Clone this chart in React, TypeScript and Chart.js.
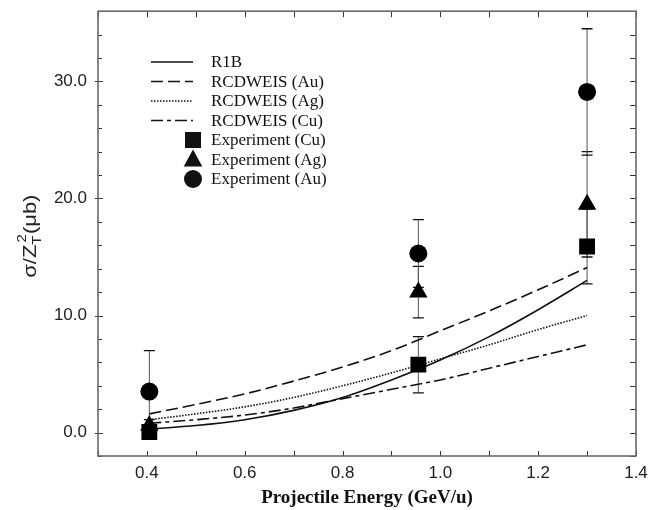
import React, { useEffect, useRef } from "react";
import { Chart, registerables } from "chart.js";

Chart.register(...registerables);

// ---- data ----
const curveEnergies = [0.405, 0.5, 0.6, 0.7, 0.8, 0.9, 1.0, 1.1, 1.2, 1.3];
const r1b = [0.3, 0.6, 1.1, 1.9, 3.0, 4.5, 6.2, 8.2, 10.5, 13.0];
const rcdweisAu = [1.6, 2.4, 3.3, 4.4, 5.6, 7.0, 8.7, 10.4, 12.2, 14.1];
const rcdweisAg = [1.1, 1.6, 2.2, 3.0, 4.0, 5.1, 6.3, 7.5, 8.8, 10.0];
const rcdweisCu = [0.8, 1.1, 1.5, 2.1, 2.9, 3.7, 4.5, 5.5, 6.5, 7.5];

const expEnergies = [0.405, 0.955, 1.3];
const expCu = [0.05, 5.8, 15.9];
const expCuErr = [0.3, 2.4, 3.2];
const expAg = [0.6, 12.0, 19.5];
const expAgErr = [0.5, 2.2, 4.5];
const expAu = [3.5, 15.3, 29.1];
const expAuErr = [3.5, 2.9, 5.4];

const xTickValues = [0.4, 0.6, 0.8, 1.0, 1.2, 1.4];
const yTickValues = [0, 10, 20, 30];

const legendLabels = [
  "R1B",
  "RCDWEIS (Au)",
  "RCDWEIS (Ag)",
  "RCDWEIS (Cu)",
  "Experiment (Cu)",
  "Experiment (Ag)",
  "Experiment (Au)",
];

const toXY = (xs: number[], ys: number[]) => xs.map((x, i) => ({ x, y: ys[i] }));

const errorBarsPlugin = {
  id: "errorBars",
  beforeDatasetsDraw(chart: any) {
    const ctx = chart.ctx;
    const xs = chart.scales.x;
    const ys = chart.scales.y;
    const sets = [
      [expCu, expCuErr],
      [expAg, expAgErr],
      [expAu, expAuErr],
    ];
    ctx.save();
    sets.forEach(([vals, errs]) => {
      vals.forEach((v: number, i: number) => {
        const px = xs.getPixelForValue(expEnergies[i]);
        const top = ys.getPixelForValue(v + errs[i]);
        const bot = ys.getPixelForValue(v - errs[i]);
        ctx.strokeStyle = "#555";
        ctx.lineWidth = 1;
        ctx.beginPath();
        ctx.moveTo(px, top);
        ctx.lineTo(px, bot);
        ctx.stroke();
        ctx.strokeStyle = "#111";
        ctx.lineWidth = 1.3;
        ctx.beginPath();
        ctx.moveTo(px - 5.5, top);
        ctx.lineTo(px + 5.5, top);
        ctx.moveTo(px - 5.5, bot);
        ctx.lineTo(px + 5.5, bot);
        ctx.stroke();
      });
    });
    ctx.restore();
  },
};

const framePlugin = {
  id: "frame",
  afterDraw(chart: any) {
    const ctx = chart.ctx;
    const a = chart.chartArea;
    const xs = chart.scales.x;
    const ys = chart.scales.y;
    ctx.save();
    // ticks
    ctx.strokeStyle = "#333";
    ctx.lineWidth = 1;
    ctx.beginPath();
    for (let k = 3; k <= 14; k++) {
      const v = k / 10;
      const px = Math.round(xs.getPixelForValue(v)) + 0.5;
      ctx.moveTo(px, a.top);
      ctx.lineTo(px, a.top + 6);
      ctx.moveTo(px, a.bottom);
      ctx.lineTo(px, a.bottom - 5);
    }
    for (let v = -2; v <= 36; v += 2) {
      const py = Math.round(ys.getPixelForValue(v)) + 0.5;
      const major = v % 10 === 0;
      ctx.moveTo(a.left - (major ? 3 : 0), py);
      ctx.lineTo(a.left + (major ? 5 : 4), py);
      ctx.moveTo(a.right, py);
      ctx.lineTo(a.right - 6, py);
    }
    ctx.stroke();
    // frame
    ctx.strokeStyle = "#6a6a6a";
    ctx.lineWidth = 1.6;
    ctx.strokeRect(a.left, a.top, a.right - a.left, a.bottom - a.top);

    // legend
    const lx0 = 151;
    const lx1 = 193;
    const tx = 211;
    const y0 = 62;
    const dy = 19.5;
    ctx.fillStyle = "#111";
    ctx.font = "17px 'Liberation Serif', 'Times New Roman', serif";
    ctx.textBaseline = "middle";
    ctx.textAlign = "left";
    const dashes = [[], [12, 5], [1.5, 1.5], [12, 4, 4, 4]];
    legendLabels.forEach((label, i) => {
      const y = y0 + i * dy;
      ctx.strokeStyle = "#111";
      if (i < 4) {
        ctx.lineWidth = 1.5;
        ctx.setLineDash(dashes[i]);
        ctx.beginPath();
        ctx.moveTo(lx0, y);
        ctx.lineTo(lx1, y);
        ctx.stroke();
        ctx.setLineDash([]);
      } else if (i === 4) {
        ctx.fillRect(193 - 8, y - 8, 16, 16);
      } else if (i === 5) {
        ctx.beginPath();
        ctx.moveTo(193, y - 10);
        ctx.lineTo(193 + 9.3, y + 7);
        ctx.lineTo(193 - 9.3, y + 7);
        ctx.closePath();
        ctx.fill();
      } else {
        ctx.beginPath();
        ctx.arc(193, y, 9, 0, Math.PI * 2);
        ctx.fill();
      }
      ctx.fillText(label, tx, y + 1);
    });

    // y-axis title: σ/Z_T^2(μb)
    ctx.translate(30, 237);
    ctx.rotate(-Math.PI / 2);
    ctx.scale(1.15, 1);
    const big = "19px 'Liberation Sans', Arial, sans-serif";
    const small = "13px 'Liberation Sans', Arial, sans-serif";
    const parts = [
      { t: "σ/Z", f: big, dy: 0 },
      { t: "T", f: small, dy: 5, sub: true },
      { t: "2", f: small, dy: -10, sup: true },
      { t: "(μb)", f: big, dy: 0 },
    ];
    let total = 0;
    const widths: number[] = [];
    parts.forEach((p: any) => {
      ctx.font = p.f;
      const w = ctx.measureText(p.t).width;
      widths.push(w);
      if (!p.sup) total += w;
    });
    let x = -total / 2;
    ctx.textBaseline = "alphabetic";
    ctx.fillStyle = "#222";
    let subStart = 0;
    parts.forEach((p: any, i: number) => {
      ctx.font = p.f;
      if (p.sup) {
        ctx.fillText(p.t, subStart + 2, p.dy + 6);
        return;
      }
      if (p.sub) subStart = x;
      ctx.fillText(p.t, x, p.dy + 6);
      x += widths[i] + (p.sub ? 1.5 : 0);
    });
    ctx.restore();
  },
};

export default function App() {
  const ref = useRef<HTMLCanvasElement | null>(null);

  useEffect(() => {
    if (!ref.current) return;
    const lineDs = (label: string, data: number[], dash: number[]) => ({
      type: "line" as const,
      label,
      data: toXY(curveEnergies, data),
      borderColor: "#111",
      borderWidth: 1.6,
      borderDash: dash,
      pointRadius: 0,
      fill: false,
      cubicInterpolationMode: "monotone" as const,
      order: 5,
    });
    const ptDs = (label: string, data: number[], style: string, r: number, order: number) => ({
      type: "scatter" as const,
      label,
      data: toXY(expEnergies, data),
      pointStyle: style,
      pointRadius: r,
      backgroundColor: "#000",
      borderColor: "#000",
      borderWidth: 0,
      order,
    });
    const noPad = (s: any) => {
      s.paddingTop = 0;
      s.paddingBottom = 0;
      s.paddingLeft = 0;
      s.paddingRight = 0;
    };
    const chart = new Chart(ref.current, {
      type: "scatter",
      data: {
        datasets: [
          lineDs("R1B", r1b, []),
          lineDs("RCDWEIS (Au)", rcdweisAu, [12, 5]),
          lineDs("RCDWEIS (Ag)", rcdweisAg, [1.5, 1.5]),
          lineDs("RCDWEIS (Cu)", rcdweisCu, [12, 4, 4, 4]),
          ptDs("Experiment (Cu)", expCu, "rect", 11.2, 1),
          ptDs("Experiment (Ag)", expAg, "triangle", 10.6, 2),
          ptDs("Experiment (Au)", expAu, "circle", 9, 3),
        ],
      } as any,
      options: {
        animation: false,
        responsive: false,
        layout: { padding: { left: 0, right: 13, top: 6, bottom: 0 } },
        plugins: { legend: { display: false }, tooltip: { enabled: false } },
        scales: {
          x: {
            type: "linear",
            min: 0.3,
            max: 1.4,
            grid: { display: false, drawTicks: false },
            border: { display: false },
            afterBuildTicks: (s: any) => {
              s.ticks = xTickValues.map((v) => ({ value: v }));
            },
            afterFit: (s: any) => {
              s.height = 54;
              noPad(s);
            },
            ticks: {
              padding: 7,
              color: "#222",
              font: { family: "'Liberation Sans', Arial, sans-serif", size: 17 },
              callback: (v: any) => Number(v).toFixed(1),
            },
            title: {
              display: true,
              text: "Projectile Energy (GeV/u)",
              color: "#111",
              font: { family: "'Liberation Serif', 'Times New Roman', serif", size: 19, weight: "bold" },
              padding: { top: 0, bottom: 1 },
            },
          },
          y: {
            type: "linear",
            min: -2,
            max: 36,
            grid: { display: false, drawTicks: false },
            border: { display: false },
            afterBuildTicks: (s: any) => {
              s.ticks = yTickValues.map((v) => ({ value: v }));
            },
            afterFit: (s: any) => {
              s.width = 98;
              noPad(s);
            },
            ticks: {
              padding: 11,
              color: "#222",
              font: { family: "'Liberation Sans', Arial, sans-serif", size: 17 },
              callback: (v: any) => Number(v).toFixed(1),
            },
          },
        },
      } as any,
      plugins: [errorBarsPlugin, framePlugin],
    });
    return () => chart.destroy();
  }, []);

  return (
    <div style={{ position: "fixed", left: 0, top: 0, width: 649, height: 510, background: "#fff" }}>
      <canvas ref={ref} width={649} height={510} style={{ width: 649, height: 510, display: "block" }} />
    </div>
  );
}
